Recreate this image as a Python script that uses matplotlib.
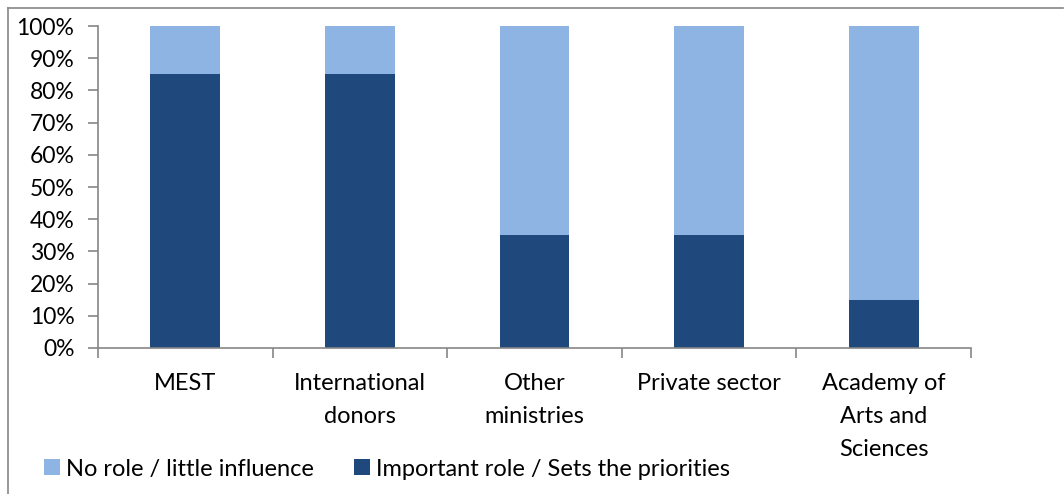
import matplotlib
matplotlib.use("Agg")
import matplotlib.pyplot as plt
from matplotlib.lines import Line2D
from matplotlib.patches import Patch
import numpy as np

categories = ["MEST", "International\ndonors", "Other\nministries", "Private sector", "Academy of\nArts and\nSciences"]
important = [85, 85, 35, 35, 15]
no_role = [15, 15, 65, 65, 85]
series_names = ["No role / little influence", "Important role / Sets the priorities"]
yticks = [0, 10, 20, 30, 40, 50, 60, 70, 80, 90, 100]

dark = "#1F497D"
light = "#8EB4E3"
grey = "#868686"

plt.rcParams['font.family'] = ['Lato', 'DejaVu Sans']

W, H = 1064, 494
fig = plt.figure(figsize=(W / 100, H / 100), dpi=100)
ax = fig.add_axes([98 / W, 1 - 348 / H, (971 - 98) / W, (348 - 26) / H])

x = np.arange(len(categories))
ax.bar(x, important, width=0.4, color=dark, zorder=2)
ax.bar(x, no_role, width=0.4, bottom=important, color=light, zorder=2)

ax.set_xlim(-0.5, len(categories) - 0.5)
ax.set_ylim(0, 100)
ax.set_yticks(yticks)
ax.set_yticklabels([f"{v}%" for v in yticks], fontsize=16.5)
ax.set_xticks(x)
ax.set_xticklabels(categories, fontsize=17, linespacing=1.72, va='top')
ax.tick_params(axis='x', length=0, pad=18)
ax.tick_params(axis='y', length=7, color=grey, width=1.2, pad=10)

# category boundary ticks
ax.set_xticks(np.arange(-0.5, len(categories)), minor=True)
ax.tick_params(axis='x', which='minor', length=7, color=grey, width=1.2)

for s in ['top', 'right']:
    ax.spines[s].set_visible(False)
for s in ['left', 'bottom']:
    ax.spines[s].set_color(grey)
    ax.spines[s].set_linewidth(1.2)

# legend
handles = [Patch(facecolor=light, edgecolor='none'), Patch(facecolor=dark, edgecolor='none')]
fig.legend(handles, series_names, loc='center left', bbox_to_anchor=(44 / W, 1 - 469 / H),
           ncol=2, frameon=False, fontsize=17, handlelength=0.68, handleheight=0.68,
           handletextpad=0.25, columnspacing=1.7, borderaxespad=0, borderpad=0)

# chart-area border (top and left visible)
fig.add_artist(Line2D([8 / W, 1063 / W], [1 - 8 / H, 1 - 8 / H], color=grey, lw=1.2, transform=fig.transFigure))
fig.add_artist(Line2D([8 / W, 8 / W], [1 - 8 / H, 0], color=grey, lw=1.2, transform=fig.transFigure))

fig.savefig("out.png", dpi=100)
